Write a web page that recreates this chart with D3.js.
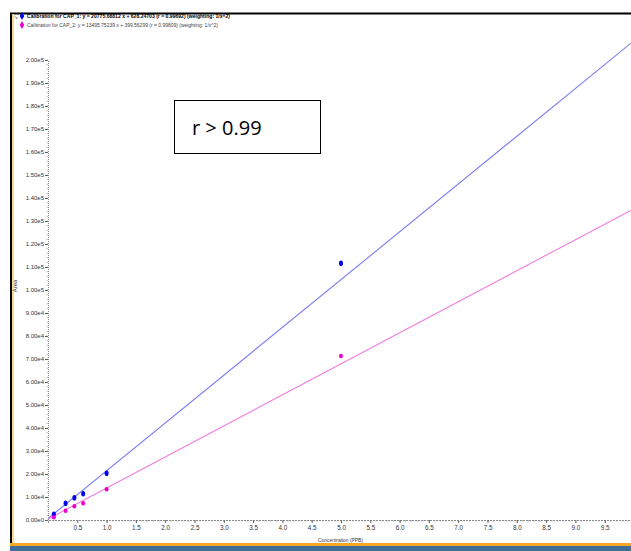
<!DOCTYPE html>
<html><head><meta charset="utf-8">
<script src="https://cdn.jsdelivr.net/npm/d3@7"></script>
<style>body{margin:0;background:#fff;}svg{display:block;font-family:"Liberation Sans Narrow","Liberation Sans",Arial,sans-serif;}</style>
</head><body><svg id="c" width="631" height="551"></svg>
<script>
const seriesNames = ["CAP_1", "CAP_2"];
const legendTexts = [
  "Calibration for CAP_1: y = 20775.68812 x + 628.24703 (r = 0.99692) (weighting: 1/x^2)",
  "Calibration for CAP_2: y = 13495.75239 x + 399.56299 (r = 0.99809) (weighting: 1/x^2)"
];
const slopes = [20775.68812, 13495.75239];
const intercepts = [628.24703, 399.56299];
const colors = ["#0000ee", "#ee00cc"];
const lineColors = ["#7b7bf0", "#f27ae0"];
const concentrations = [0.1, 0.3, 0.45, 0.6, 1.0, 5.0];
const cap1Areas = [2480, 7260, 9700, 11430, 20300, 111600];
const cap2Areas = [1170, 4040, 5960, 7260, 13350, 71300];
const yTickValues = d3.range(0, 200001, 10000);
const xTickValues = d3.range(0.5, 9.51, 0.5);
const yLabel = "Area";
const xLabel = "Concentration (PPB)";
const annotation = "r > 0.99";

const svg = d3.select("#c");
// window frame
svg.append("rect").attr("x",10).attr("y",13).attr("width",621).attr("height",531).attr("fill","#fff");
svg.append("line").attr("x1",10).attr("x2",631).attr("y1",13.5).attr("y2",13.5).attr("stroke","#000").attr("stroke-width",2);
svg.append("line").attr("x1",11).attr("x2",11).attr("y1",13).attr("y2",545).attr("stroke","#000").attr("stroke-width",2);
svg.append("line").attr("x1",13).attr("x2",13).attr("y1",14).attr("y2",545).attr("stroke","#f6dc8a").attr("stroke-width",2);
svg.append("rect").attr("x",10).attr("y",543).attr("width",621).attr("height",3).attr("fill","#f5a623");
svg.append("rect").attr("x",10).attr("y",546).attr("width",621).attr("height",5).attr("fill","#3f6f99");
svg.append("rect").attr("x",0).attr("y",0).attr("width",10).attr("height",551).attr("fill","#fff");

const x = d3.scaleLinear().domain([0, 10]).range([48, 634]);
const y = d3.scaleLinear().domain([0, 200000]).range([520, 60]);

// legend
const legendWidths = [203, 191];
legendTexts.forEach((t,i)=>{
  const ly = 18 + i*9;
  svg.append("path").attr("d", d3.symbol(d3.symbolDiamond, 18)()).attr("transform",`translate(22,${ly-2})`).attr("fill",colors[i]);
  svg.append("text").attr("x",27).attr("y",ly).attr("font-size",6.2).attr("fill", i===0?"#000":"#444")
    .attr("font-weight", i===0?"bold":"normal")
    .attr("textLength", legendWidths[i]).attr("lengthAdjust","spacingAndGlyphs").text(t);
});
svg.append("text").attr("x",13).attr("y",19).attr("font-size",6).attr("fill","#666").text("↘");

// axes
const gy = svg.append("g").attr("transform","translate(48,0)");
gy.call(d3.axisLeft(y).tickValues(yTickValues).tickSize(3).tickFormat(d=>{
  if(d===0) return "0.00e0";
  const e = Math.floor(Math.log10(d));
  return (d/Math.pow(10,e)).toFixed(2)+"e"+e;
}));
gy.select(".domain").attr("stroke","#888").attr("stroke-dasharray","1,1");
gy.selectAll(".tick line").attr("stroke","#555");
gy.selectAll("text").attr("font-size",6).attr("fill","#333").attr("x",-4);
gy.selectAll(".minor").data(d3.range(0,200001,2000)).enter().append("line")
  .attr("x1",-1.5).attr("x2",0).attr("y1",d=>y(d)).attr("y2",d=>y(d)).attr("stroke","#999").attr("stroke-width",0.6);

const gx = svg.append("g").attr("transform","translate(0,520)");
gx.call(d3.axisBottom(x).tickValues(xTickValues).tickSize(3).tickFormat(d3.format(".1f")));
gx.select(".domain").attr("stroke","#888").attr("stroke-dasharray","2,1");
gx.selectAll(".tick line").attr("stroke","#555");
gx.selectAll("text").attr("font-size",6.3).attr("fill","#333").attr("y",6);
gx.selectAll(".minor").data(d3.range(0,10.01,0.1)).enter().append("line")
  .attr("x1",d=>x(d)).attr("x2",d=>x(d)).attr("y1",0).attr("y2",1.8).attr("stroke","#999").attr("stroke-width",0.6);

svg.append("text").attr("transform","translate(17,286) rotate(-90)").attr("text-anchor","middle").attr("font-size",6).attr("fill","#333").text(yLabel);
svg.append("text").attr("x",318).attr("y",542).attr("font-size",6.2).attr("fill","#333").attr("textLength",45).attr("lengthAdjust","spacingAndGlyphs").text(xLabel);

// lines
svg.append("clipPath").attr("id","pc").append("rect").attr("x",48).attr("y",20).attr("width",583).attr("height",501);
[0,1].forEach(i=>{
  const xs = [0, 10];
  svg.append("line").attr("clip-path","url(#pc)")
    .attr("x1",x(xs[0])).attr("y1",y(slopes[i]*xs[0]+intercepts[i]))
    .attr("x2",x(xs[1])).attr("y2",y(slopes[i]*xs[1]+intercepts[i]))
    .attr("stroke",lineColors[i]).attr("stroke-width",1.1);
});
// points
[cap1Areas, cap2Areas].forEach((arr,i)=>{
  svg.selectAll(null).data(concentrations).enter().append("ellipse")
    .attr("cx",(d)=>x(d)).attr("cy",(d,j)=>y(arr[j]))
    .attr("rx",2).attr("ry", i===0?2.8:2.2).attr("fill",colors[i]);
});

// annotation box
svg.append("rect").attr("x",174.5).attr("y",100.5).attr("width",146).attr("height",53).attr("fill","#fff").attr("stroke","#000").attr("stroke-width",1);
svg.append("text").attr("x",192).attr("y",135).attr("font-size",20).attr("font-family","Open Sans, Liberation Sans, sans-serif").attr("fill","#000").text(annotation);
</script></body></html>
